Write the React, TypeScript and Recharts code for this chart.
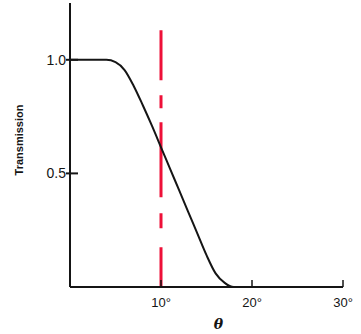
import { LineChart, Line, XAxis, YAxis, ReferenceLine } from 'recharts';

const theta = [0, 2, 4, 5, 6, 7, 8, 9, 10, 11, 12, 13, 14, 15, 16, 17, 18, 19];
const transmission = [1.0, 1.0, 1.0, 0.99, 0.955, 0.885, 0.8, 0.71, 0.615, 0.52, 0.425, 0.33, 0.235, 0.14, 0.06, 0.018, 0, 0];
const xTicks = [10, 20, 30];
const yTicks = [0.5, 1.0];
const cutoffAngle = 10;

const data = theta.map((t, i) => ({ theta: t, T: transmission[i] }));

const ink = '#151515';

function YTick({ x, y, payload }: any) {
  return (
    <g>
      <line x1={x - 4} x2={x + 8} y1={y} y2={y} stroke={ink} strokeWidth={2} />
      <text x={x - 4} y={y} dy={5} textAnchor="end" fontSize={14} fill={ink} fontFamily="Liberation Sans, Arial, sans-serif">
        {payload.value.toFixed(1)}
      </text>
    </g>
  );
}

function XTick({ x, y, payload }: any) {
  return (
    <g>
      <line x1={x} x2={x} y1={y} y2={y - 7} stroke={ink} strokeWidth={1.5} />
      <text x={x} y={y} dy={20} textAnchor="middle" fontSize={13} fill={ink} fontFamily="Liberation Sans, Arial, sans-serif">
        {payload.value}°
      </text>
    </g>
  );
}

export default function App() {
  return (
    <div style={{ position: 'absolute', left: 0, top: 0, background: '#fff' }}>
      <LineChart width={361} height={334} data={data} margin={{ top: 3, right: 18, bottom: 0, left: 0 }}>
        <XAxis
          dataKey="theta"
          type="number"
          domain={[0, 30]}
          ticks={xTicks}
          height={47}
          tickSize={0}
          tickMargin={0}
          tickLine={false}
          axisLine={{ stroke: ink, strokeWidth: 2 }}
          tick={<XTick />}
          label={{ value: 'θ', position: 'insideBottom', dx: 12, dy: 0, fontSize: 14, fontStyle: 'italic', fontWeight: 'bold', fill: ink, fontFamily: 'DejaVu Serif, serif' } as any}
        />
        <YAxis
          type="number"
          domain={[0, 1.25]}
          ticks={yTicks}
          width={70}
          tickSize={0}
          tickMargin={0}
          tickLine={false}
          axisLine={{ stroke: ink, strokeWidth: 2 }}
          tick={<YTick />}
          label={{ value: 'Transmission', angle: -90, position: 'insideLeft', dx: 14, dy: -5, fontSize: 11, fontWeight: 'bold', fill: ink, fontFamily: 'Liberation Sans, Arial, sans-serif', style: { textAnchor: 'middle' } } as any}
        />
        <ReferenceLine
          segment={[{ x: cutoffAngle, y: 1.13 }, { x: cutoffAngle, y: 0 }]}
          stroke="#ee1038"
          strokeWidth={3}
          strokeDasharray="50 15 13 14 75 16 15 19 40"
        />
        <Line
          dataKey="T"
          type="monotone"
          stroke={ink}
          strokeWidth={2}
          dot={false}
          isAnimationActive={false}
        />
      </LineChart>
    </div>
  );
}
